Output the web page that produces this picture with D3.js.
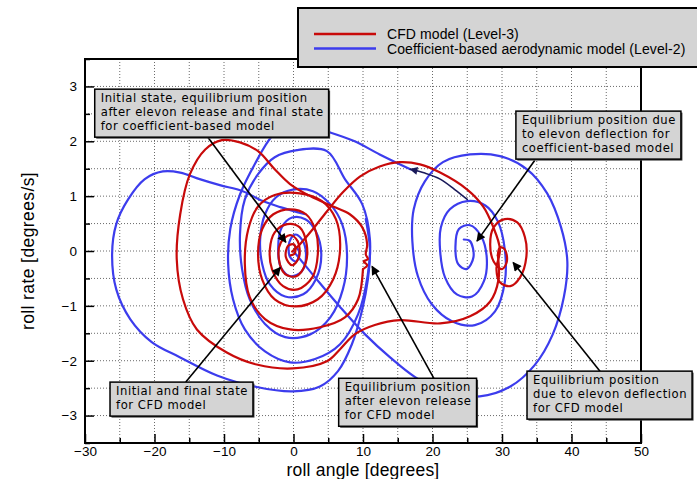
<!DOCTYPE html>
<html>
<head>
<meta charset="utf-8">
<script src="https://cdn.jsdelivr.net/npm/d3@7"></script>
<style>
  html, body { margin: 0; padding: 0; background: #fff; }
  svg { display: block; font-family: "Liberation Sans", Arial, sans-serif; }
</style>
</head>
<body>
<svg id="chart" width="697" height="479"></svg>
<script>
// Roll angle / roll rate phase-plane trajectories, CFD (Level-3) vs coefficient-based (Level-2)

const rollAngleTicks = [-30, -20, -10, 0, 10, 20, 30, 40, 50];
const rollAngleMinor = [-25, -15, -5, 5, 15, 25, 35, 45];
const rollRateTicks = [-3, -2, -1, 0, 1, 2, 3];
const rollRateMinor = [-3.5, -2.5, -1.5, -0.5, 0.5, 1.5, 2.5, 3.5];

const seriesNames = ["CFD model (Level-3)", "Coefficient-based aerodynamic model (Level-2)"];

// Level-2: departure from 0 deg and spiral into the deflected-elevon equilibrium
const coefDeparture = [
  [0.1,-0.02],[3.1,-0.48],[6.7,-1.02],[10.3,-1.52],[13.9,-1.94],[17.5,-2.30],[21.8,-2.58],
  [26.8,-2.65],[31.2,-2.47],[34.7,-2.08],[37.3,-1.52],[38.9,-0.84],[39.4,-0.19],[38.5,0.43],
  [36.5,1.05],[33.6,1.49],[29.7,1.73],[25.4,1.76],[21.5,1.62],[18.9,1.27],[17.3,0.76],
  [17.1,0.18],[17.9,-0.46],[19.9,-0.97],[22.8,-1.28],[26.1,-1.35],[29.0,-1.10],[30.4,-0.57],
  [30.4,0.03],[29.4,0.54],[27.6,0.83],[25.0,0.91],[22.5,0.76],[21.2,0.43],[21.1,0.0],
  [21.8,-0.48],[23.5,-0.79],[25.7,-0.83],[27.4,-0.55],[27.8,-0.11],[27.0,0.27],[25.4,0.47],
  [23.8,0.40],[23.3,0.08],[23.7,-0.24],[24.9,-0.33],[25.9,-0.11],[25.4,0.18],[24.5,0.21]
];

// Level-2: elevon release (direction marker)
const coefReleaseMarker = [[25.0,0.94],[23.2,1.12],[21.1,1.31],[18.9,1.42],[16.8,1.49]];

// Level-2: swing back after release and spiral into 0 deg
const coefReturn = [
  [16.8,1.49],[12.4,1.76],[8.8,2.0],[5.3,2.16],[1.7,2.29],[-1.2,2.27],[-3.1,2.09],[-5.5,1.60],
  [-7.7,1.03],[-9.1,0.40],[-9.4,-0.24],[-8.7,-0.88],[-7.0,-1.43],[-4.1,-1.83],[-0.5,-2.03],
  [3.1,-1.97],[6.7,-1.70],[9.3,-1.15],[10.7,-0.42],[11.0,0.21],[9.9,0.85],[7.4,1.31],
  [4.8,1.82],[0.5,1.84],[-2.7,1.71],[-5.1,1.40],[-7.0,0.94],[-7.7,0.30],[-7.4,-0.33],
  [-6.3,-0.88],[-4.1,-1.33],[-1.2,-1.57],[2.4,-1.52],[5.3,-1.21],[7.1,-0.70],[7.7,-0.06],
  [7.0,0.49],[5.3,0.85],[2.8,1.09],[-0.1,1.12],[-2.5,0.98],[-4.1,0.67],[-4.8,0.21],
  [-4.5,-0.24],[-3.4,-0.61],[-1.2,-0.83],[1.4,-0.79],[3.2,-0.52],[4.0,-0.06],[3.2,0.36],
  [1.7,0.58],[-0.2,0.61],[-1.7,0.43],[-2.2,0.07],[-1.8,-0.30],[-0.4,-0.46],[1.2,-0.37],
  [1.8,-0.06],[1.2,0.21],[0.2,0.30],[-0.6,0.16],[-0.5,-0.11],[0.4,-0.19],[0.8,-0.01],[0.2,0.09]
];

// Level-2: wide swing to negative roll angle
const coefWideSwing = [
  [1.7,0.67],[-1.9,0.80],[-4.4,0.91],[-7.3,1.09],[-10.6,1.20],[-13.5,1.31],[-16.3,1.43],
  [-18.8,1.45],[-21.4,1.31],[-23.8,0.94],[-25.5,0.49],[-26.1,-0.06],[-25.5,-0.70],[-23.5,-1.24],
  [-20.4,-1.66],[-16.3,-1.94],[-11.0,-2.27],[-5.3,-2.48],[-0.1,-2.56],[3.8,-2.47],[6.4,-2.19],
  [8.4,-1.70],[9.9,-1.06],[10.7,-0.52],[11.0,0.03],[10.4,0.58]
];

// Level-3: departure from 0 deg and spiral into the deflected-elevon equilibrium
const cfdDeparture = [
  [-0.2,-0.01],[0.9,0.12],[2.8,0.40],[4.8,0.72],[7.1,1.07],[9.6,1.36],[12.4,1.54],[15.3,1.62],
  [18.2,1.58],[21.1,1.43],[25.0,1.12],[27.3,0.81],[28.7,0.45],[29.7,0.03],[29.2,-0.33],
  [29.7,-0.57],[31.2,-0.64],[32.6,-0.48],[33.5,-0.11],[33.3,0.25],[32.2,0.52],[30.4,0.58],
  [28.8,0.43],[28.3,0.12],[28.8,-0.19],[30.0,-0.33],[30.7,-0.19],[30.4,0.03],[29.7,0.07],[29.4,-0.08]
];

// Level-3: swing after elevon release, ending near the release equilibrium
const cfdRelease = [
  [29.4,-0.08],[29.5,-0.52],[28.3,-0.92],[25.4,-1.19],[21.1,-1.32],[15.3,-1.26],[11.7,-1.35],
  [8.8,-1.52],[6.7,-1.79],[4.8,-2.01],[-0.1,-2.14],[-5.3,-2.07],[-9.6,-1.85],[-13.9,-1.43],
  [-15.9,-0.88],[-16.8,-0.15],[-16.3,0.67],[-14.9,1.40],[-12.7,1.85],[-10.3,2.02],[-7.7,1.98],
  [-5.1,1.82],[-2.7,1.49],[-0.5,1.22],[2.4,1.00],[5.7,0.81],[8.1,0.67],[9.9,0.43],[10.6,0.12],
  [10.4,-0.06],[10.7,-0.15],[10.1,-0.19],[10.6,-0.26],[10.0,-0.33]
];

// Level-3: return spiral into the final state
const cfdReturn = [
  [10.0,-0.33],[9.3,-0.88],[7.4,-1.21],[3.8,-1.39],[-0.5,-1.43],[-4.1,-1.24],[-6.3,-0.84],
  [-7.0,-0.24],[-6.5,0.40],[-5.1,0.81],[-2.7,1.02],[0.9,1.05],[4.1,0.91],[6.1,0.58],[6.7,0.03],
  [5.7,-0.52],[3.5,-0.88],[0.2,-1.01],[-2.7,-0.88],[-4.5,-0.52],[-5.1,-0.06],[-4.5,0.40],
  [-2.9,0.67],[-0.5,0.76],[1.8,0.67],[3.2,0.36],[3.5,-0.06],[2.7,-0.48],[0.6,-0.70],
  [-1.5,-0.64],[-3.1,-0.33],[-3.4,0.03],[-2.7,0.34],[-0.9,0.49],[0.9,0.43],[1.9,0.12],
  [1.7,-0.24],[0.4,-0.46],[-1.2,-0.42],[-2.1,-0.15],[-1.8,0.16],[-0.5,0.29],[0.6,0.18],
  [0.8,-0.11],[-0.2,-0.26],[-1.1,-0.11],[-0.8,0.09],[0.1,0.12],[0.2,-0.04],[-0.4,-0.08]
];

// Callouts: text lines, box corner (data units), arrow start and tip (data units)
const callouts = [
  { lines: ["Initial state, equilibrium position", "after elevon release and final state", "for coefficient-based model"],
    corner: [-28.6, 2.95], from: [-12.3, 2.07], to: [-1.1, 0.16] },
  { lines: ["Equilibrium position due", "to elevon deflection for", "coefficient-based model"],
    corner: [32.0, 2.55], from: [34.7, 1.65], to: [26.4, 0.18] },
  { lines: ["Initial and final state", "for CFD model"],
    corner: [-26.4, -2.39], from: [-15.5, -2.39], to: [-1.9, -0.30] },
  { lines: ["Equilibrium position", "after elevon release", "for CFD model"],
    corner: [6.5, -2.32], from: [20.2, -2.32], to: [11.3, -0.28] },
  { lines: ["Equilibrium position", "due to elevon deflection", "for CFD model"],
    corner: [33.6, -2.19], from: [44.1, -2.19], to: [31.6, -0.21] }
];

const plot = { left: 85, right: 641, top: 59, bottom: 443 };
const red = "#c80a0a", blue = "#3c3ced", navy = "#1a1a5a";

const svg = d3.select("#chart");
const x = d3.scaleLinear().domain([-30, 50]).range([plot.left, plot.right]);
const y = d3.scaleLinear().domain([-3.5, 3.5]).range([plot.bottom, plot.top]);

// grid
const grid = svg.append("g").attr("stroke", "#6a6a6a").attr("stroke-width", 1).attr("stroke-dasharray", "1,2");
d3.range(-25, 50, 5).forEach(v => grid.append("line")
  .attr("x1", x(v)).attr("x2", x(v)).attr("y1", plot.top).attr("y2", plot.bottom));
d3.range(-3, 3.5, 0.5).forEach(v => grid.append("line")
  .attr("x1", plot.left).attr("x2", plot.right).attr("y1", y(v)).attr("y2", y(v)));

// axes
const tickFont = g => g.selectAll("text").attr("font-size", 13.5).attr("fill", "#000")
  .attr("font-family", "Liberation Sans, Arial, sans-serif");
svg.append("g").attr("transform", `translate(0,${plot.bottom})`)
  .call(d3.axisBottom(x).tickValues(rollAngleTicks).tickSize(-9).tickPadding(3).tickFormat(d3.format("d")))
  .call(tickFont);
svg.append("g").attr("transform", `translate(0,${plot.bottom})`)
  .call(d3.axisBottom(x).tickValues(rollAngleMinor).tickSize(-5).tickFormat(""));
svg.append("g").attr("transform", `translate(${plot.left},0)`)
  .call(d3.axisLeft(y).tickValues(rollRateTicks).tickSize(-9).tickPadding(8).tickFormat(d3.format("d")))
  .call(tickFont);
svg.append("g").attr("transform", `translate(${plot.left},0)`)
  .call(d3.axisLeft(y).tickValues(rollRateMinor).tickSize(-5).tickFormat(""));
svg.selectAll(".domain").remove();
svg.selectAll(".tick line").attr("stroke", "#000").attr("stroke-width", 1.5);

// frame
svg.append("rect").attr("x", plot.left).attr("y", plot.top)
  .attr("width", plot.right - plot.left).attr("height", plot.bottom - plot.top)
  .attr("fill", "none").attr("stroke", "#000").attr("stroke-width", 2);

// axis titles
svg.append("text").attr("x", (plot.left + plot.right) / 2).attr("y", 476)
  .attr("text-anchor", "middle").attr("font-size", 17.5).attr("letter-spacing", 0.2).text("roll angle [degrees]");
svg.append("text").attr("transform", `translate(34,${(plot.top + plot.bottom) / 2}) rotate(-90)`)
  .attr("text-anchor", "middle").attr("font-size", 17.5).attr("letter-spacing", 0.4).text("roll rate [degrees/s]");

// trajectories
const defs = svg.append("defs");
defs.append("clipPath").attr("id", "plotClip").append("rect")
  .attr("x", plot.left).attr("y", plot.top).attr("width", plot.right - plot.left).attr("height", plot.bottom - plot.top);
defs.append("marker").attr("id", "headNavy").attr("viewBox", "0 0 10 10").attr("refX", 9).attr("refY", 5)
  .attr("markerWidth", 10).attr("markerHeight", 8).attr("markerUnits", "userSpaceOnUse").attr("orient", "auto")
  .append("path").attr("d", "M0,0L10,5L0,10z").attr("fill", navy);
defs.append("marker").attr("id", "headBlack").attr("viewBox", "0 0 10 10").attr("refX", 9).attr("refY", 5)
  .attr("markerWidth", 13).attr("markerHeight", 9).attr("markerUnits", "userSpaceOnUse").attr("orient", "auto")
  .append("path").attr("d", "M0,0L10,5L0,10z").attr("fill", "#000");

const line = d3.line().x(d => x(d[0])).y(d => y(d[1])).curve(d3.curveCatmullRom.alpha(0.5));
const curves = svg.append("g").attr("clip-path", "url(#plotClip)").attr("fill", "none")
  .attr("stroke-linejoin", "round").attr("stroke-linecap", "round");

[coefDeparture, coefReturn, coefWideSwing].forEach(s =>
  curves.append("path").attr("d", line(s)).attr("stroke", blue).attr("stroke-width", 2.2));
[cfdDeparture, cfdRelease, cfdReturn].forEach(s =>
  curves.append("path").attr("d", line(s)).attr("stroke", red).attr("stroke-width", 2.2));
curves.append("path").attr("d", line(coefReleaseMarker)).attr("stroke", navy).attr("stroke-width", 1.6)
  .attr("marker-end", "url(#headNavy)");

// callout arrows and boxes
const ann = svg.append("g");
callouts.forEach(c => {
  ann.append("line").attr("x1", x(c.from[0])).attr("y1", y(c.from[1]))
    .attr("x2", x(c.to[0])).attr("y2", y(c.to[1]))
    .attr("stroke", "#000").attr("stroke-width", 1.6).attr("marker-end", "url(#headBlack)");
});
const lineGap = 14;
callouts.forEach(c => {
  const g = ann.append("g").attr("transform", `translate(${x(c.corner[0])},${y(c.corner[1])})`);
  const shadow = g.append("rect").attr("fill", "#444");
  const box = g.append("rect").attr("fill", "#d4d4d4").attr("stroke", "#000").attr("stroke-width", 1.5);
  let w = 0;
  c.lines.forEach((l, i) => {
    const t = g.append("text").attr("x", 6).attr("y", 13 + i * lineGap)
      .attr("font-family", "DejaVu Sans, Verdana, sans-serif").attr("font-size", 11.6)
      .attr("letter-spacing", 0.55).attr("fill", "#000").text(l);
    w = Math.max(w, t.node().getComputedTextLength());
  });
  const bw = w + 11, bh = c.lines.length * lineGap + 6;
  box.attr("width", bw).attr("height", bh);
  shadow.attr("x", 1.5).attr("y", 1.5).attr("width", bw).attr("height", bh);
});

// legend
const lg = svg.append("g");
lg.append("rect").attr("x", 300).attr("y", 10).attr("width", 400).attr("height", 58)
  .attr("fill", "#444");
lg.append("rect").attr("x", 298).attr("y", 8).attr("width", 402).attr("height", 59)
  .attr("fill", "#d4d4d4").attr("stroke", "#000").attr("stroke-width", 2);
[red, blue].forEach((col, i) => {
  lg.append("line").attr("x1", 314).attr("x2", 376).attr("y1", 34 + i * 14.5).attr("y2", 34 + i * 14.5)
    .attr("stroke", col).attr("stroke-width", 2.5);
  lg.append("text").attr("x", 387).attr("y", 39 + i * 14.5).attr("font-size", 14)
    .attr("letter-spacing", 0.1).text(seriesNames[i]);
});
</script>
</body>
</html>
